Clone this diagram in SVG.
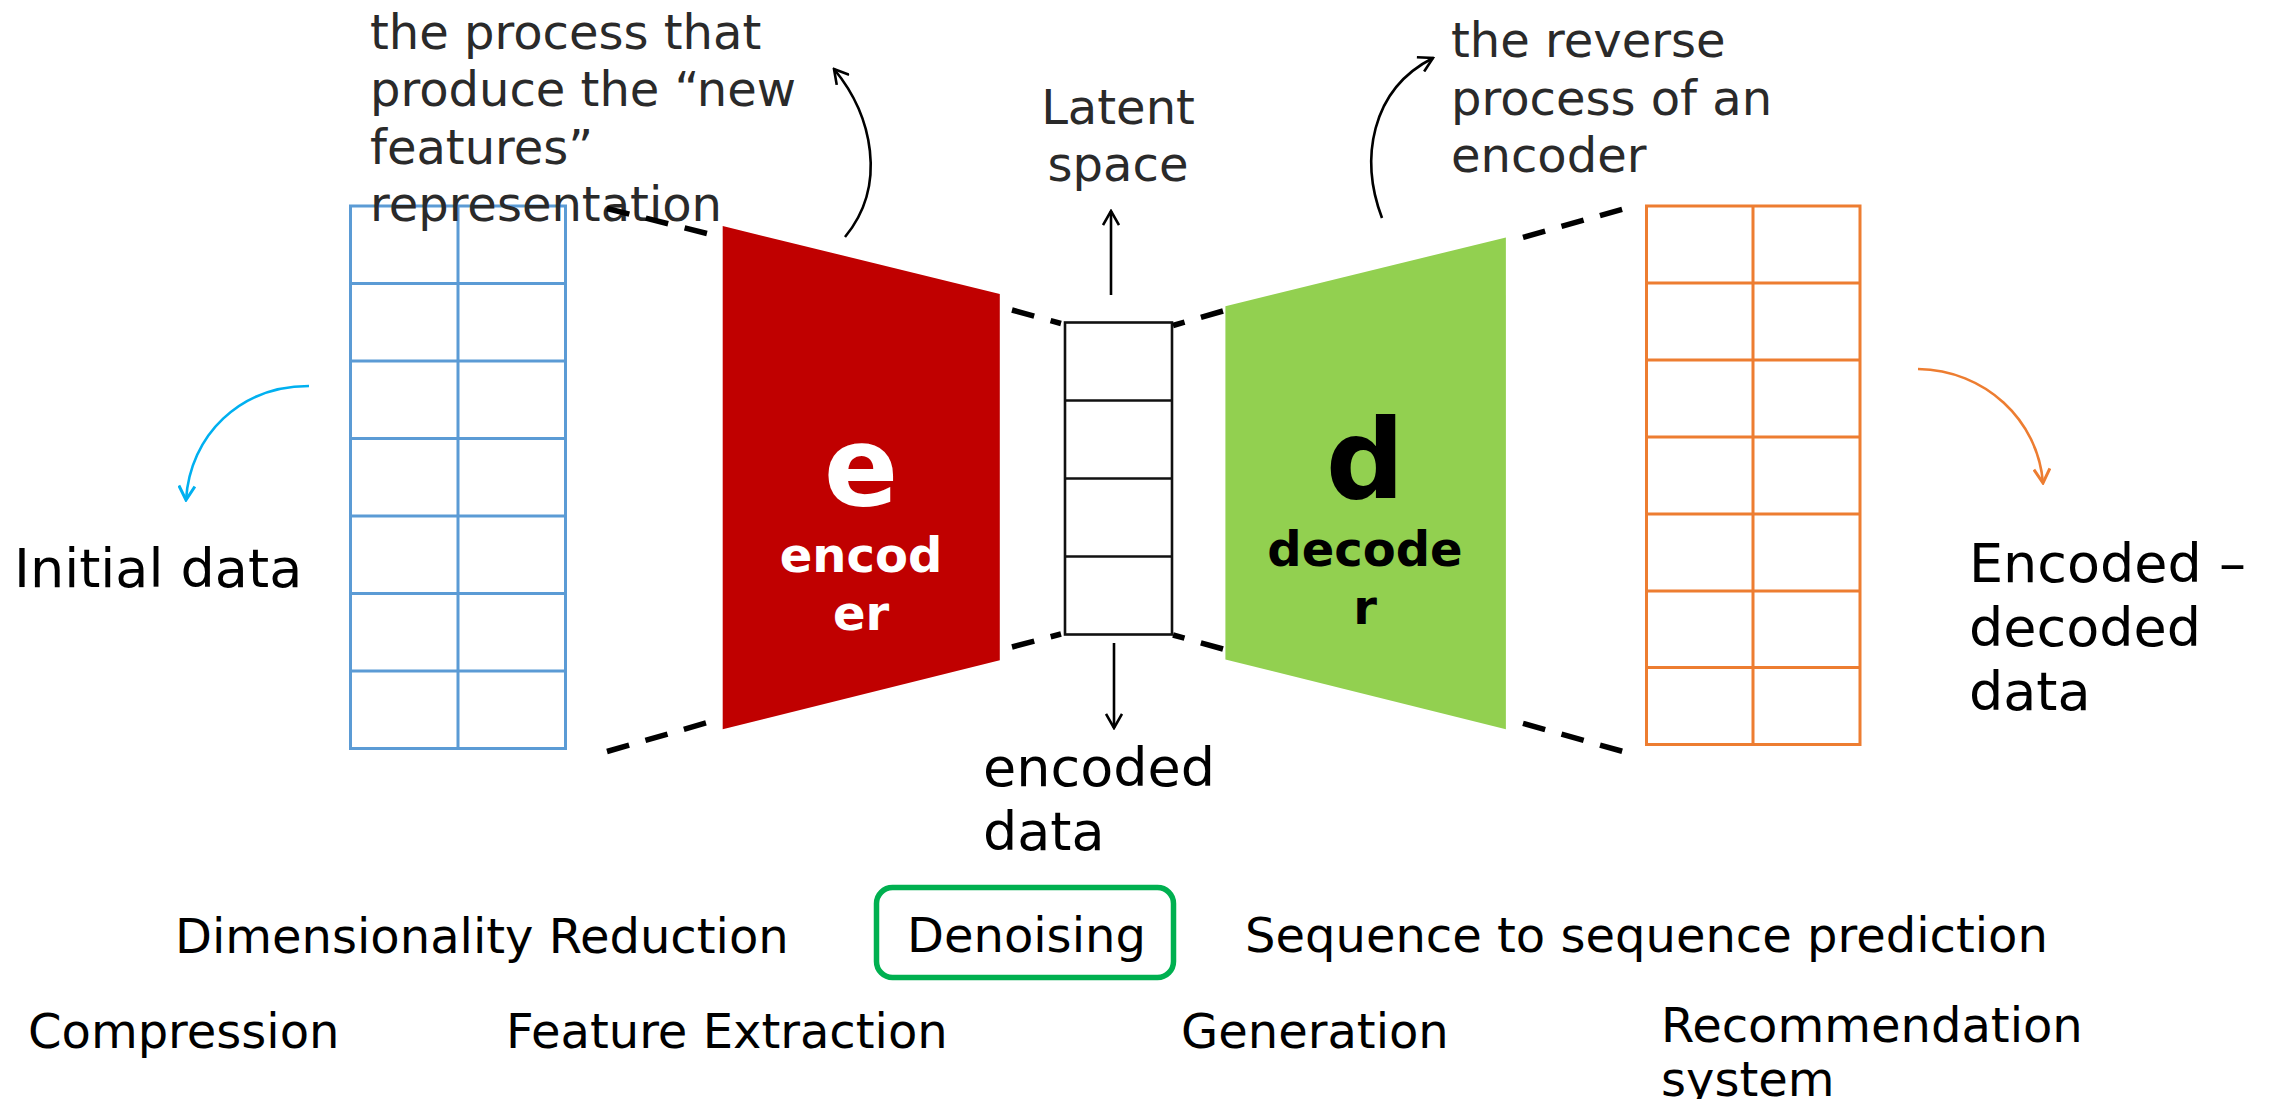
<svg xmlns="http://www.w3.org/2000/svg" width="2270" height="1099" viewBox="0 0 2270 1099">
  <style>
    .txt { font-family: "DejaVu Sans", "Liberation Sans", sans-serif; }
    .note { font-size: 48px; fill: #2a2a2a; }
    .lbl { font-size: 54px; fill: #000; }
    .app { font-size: 48px; fill: #000; }
    .big { font-size: 110px; font-weight: bold; }
    .mid { font-size: 48px; font-weight: bold; }
    .dash { stroke: #000; stroke-width: 5.5; stroke-dasharray: 23 17; fill: none; }
    .arr { fill: none; stroke-width: 2.6; }
    .blue { stroke: #5B9BD5; stroke-width: 3; fill: none; }
    .orange { stroke: #ED7D31; stroke-width: 3; fill: none; }
  </style>
  <defs>
    <marker id="headK" markerUnits="userSpaceOnUse" viewBox="0 0 18 18" markerWidth="18" markerHeight="18" refX="16" refY="9" orient="auto">
      <path d="M2,1 L16,9 L2,17" fill="none" stroke="#000" stroke-width="2.6"/>
    </marker>
    <marker id="headB" markerUnits="userSpaceOnUse" viewBox="0 0 18 18" markerWidth="18" markerHeight="18" refX="16" refY="9" orient="auto">
      <path d="M2,1 L16,9 L2,17" fill="none" stroke="#00B0F0" stroke-width="3"/>
    </marker>
    <marker id="headO" markerUnits="userSpaceOnUse" viewBox="0 0 18 18" markerWidth="18" markerHeight="18" refX="16" refY="9" orient="auto">
      <path d="M2,1 L16,9 L2,17" fill="none" stroke="#ED7D31" stroke-width="3"/>
    </marker>
  </defs>

  <rect width="2270" height="1099" fill="#fff"/>

  <!-- input data grid -->
  <g id="input-grid" class="blue">
    <rect x="350.5" y="206" width="215" height="542.5"/>
    <line x1="458" y1="206" x2="458" y2="748.5"/>
    <line x1="350.5" y1="283.5" x2="565.5" y2="283.5"/>
    <line x1="350.5" y1="361" x2="565.5" y2="361"/>
    <line x1="350.5" y1="438.5" x2="565.5" y2="438.5"/>
    <line x1="350.5" y1="516" x2="565.5" y2="516"/>
    <line x1="350.5" y1="593.5" x2="565.5" y2="593.5"/>
    <line x1="350.5" y1="671" x2="565.5" y2="671"/>
  </g>

  <!-- annotation texts -->
  <g id="note-encoder" class="txt note">
    <text x="370" y="49">the process that</text>
    <text x="370" y="106">produce the “new</text>
    <text x="370" y="164">features”</text>
    <text x="370" y="221">representation</text>
  </g>
  <g id="note-decoder" class="txt note">
    <text x="1451" y="57">the reverse</text>
    <text x="1451" y="115">process of an</text>
    <text x="1451" y="172">encoder</text>
  </g>
  <g id="note-latent" class="txt note" text-anchor="middle">
    <text x="1118" y="124">Latent</text>
    <text x="1118" y="181">space</text>
  </g>

  <!-- encoder -->
  <g id="encoder">
    <polygon points="722.7,226 999.8,294 999.8,660.3 722.7,729.2" fill="#C00000"/>
    <g class="txt" fill="#fff" text-anchor="middle">
      <text class="big" x="861" y="505">e</text>
      <text class="mid" x="861" y="572">encod</text>
      <text class="mid" x="861" y="630">er</text>
    </g>
  </g>

  <!-- latent space -->
  <g id="latent" fill="none" stroke="#111" stroke-width="2.6">
    <rect x="1065" y="322.5" width="107" height="312"/>
    <line x1="1065" y1="400.5" x2="1172" y2="400.5"/>
    <line x1="1065" y1="478.5" x2="1172" y2="478.5"/>
    <line x1="1065" y1="556.5" x2="1172" y2="556.5"/>
  </g>

  <!-- decoder -->
  <g id="decoder">
    <polygon points="1225.4,306.3 1505.9,237.4 1505.9,729.2 1225.4,659.5" fill="#92D050"/>
    <g class="txt" fill="#000" text-anchor="middle">
      <text class="big" x="1365" y="498">d</text>
      <text class="mid" x="1365" y="566">decode</text>
      <text class="mid" x="1365" y="624">r</text>
    </g>
  </g>

  <!-- output data grid -->
  <g id="output-grid" class="orange">
    <rect x="1646.5" y="206" width="213.5" height="538.5"/>
    <line x1="1753" y1="206" x2="1753" y2="744.5"/>
    <line x1="1646.5" y1="283" x2="1860" y2="283"/>
    <line x1="1646.5" y1="360" x2="1860" y2="360"/>
    <line x1="1646.5" y1="437" x2="1860" y2="437"/>
    <line x1="1646.5" y1="514" x2="1860" y2="514"/>
    <line x1="1646.5" y1="591" x2="1860" y2="591"/>
    <line x1="1646.5" y1="667.5" x2="1860" y2="667.5"/>
  </g>

  <!-- data labels -->
  <g id="label-initial" class="txt lbl"><text x="14" y="587">Initial data</text></g>
  <g id="label-encoded" class="txt lbl">
    <text x="983" y="786">encoded</text>
    <text x="983" y="850">data</text>
  </g>
  <g id="label-output" class="txt lbl">
    <text x="1969" y="582">Encoded –</text>
    <text x="1969" y="646">decoded</text>
    <text x="1969" y="710">data</text>
  </g>

  <!-- applications -->
  <g id="app-dimred" class="txt app"><text x="175" y="953">Dimensionality Reduction</text></g>
  <g id="app-denoising">
    <rect x="876.5" y="887.5" width="297" height="90" rx="16" fill="none" stroke="#00B050" stroke-width="5.5"/>
    <text class="txt app" x="907" y="952">Denoising</text>
  </g>
  <g id="app-seq2seq" class="txt app"><text x="1245" y="952">Sequence to sequence prediction</text></g>
  <g id="app-compression" class="txt app"><text x="28" y="1048">Compression</text></g>
  <g id="app-features" class="txt app"><text x="506" y="1048">Feature Extraction</text></g>
  <g id="app-generation" class="txt app"><text x="1181" y="1048">Generation</text></g>
  <g id="app-recommend" class="txt app">
    <text x="1661" y="1042">Recommendation</text>
    <text x="1661" y="1096">system</text>
  </g>

  <!-- connectors -->
  <g id="connectors">
    <line class="dash" x1="607" y1="208.5" x2="711" y2="234.5"/>
    <line class="dash" x1="607" y1="751.5" x2="711" y2="721.5"/>
    <line class="dash" x1="1012" y1="310" x2="1061" y2="323.5"/>
    <line class="dash" x1="1012" y1="647" x2="1061" y2="634"/>
    <line class="dash" x1="1223" y1="311" x2="1173" y2="325.5"/>
    <line class="dash" x1="1223" y1="649" x2="1173" y2="635"/>
    <line class="dash" x1="1523" y1="237.4" x2="1628" y2="207.6"/>
    <line class="dash" x1="1523" y1="723.4" x2="1628" y2="752.9"/>

    <line class="arr" stroke="#000" x1="1111" y1="295" x2="1111" y2="211" marker-end="url(#headK)"/>
    <line class="arr" stroke="#000" x1="1114" y1="643" x2="1114" y2="728" marker-end="url(#headK)"/>
    <path class="arr" stroke="#000" d="M845,237 C888,185 872,115 834,69" marker-end="url(#headK)"/>
    <path class="arr" stroke="#000" d="M1382,218 C1360,160 1370,90 1433,58" marker-end="url(#headK)"/>
    <path class="arr" stroke="#00B0F0" stroke-width="3" d="M309,386 C240,386 190,435 186,500" marker-end="url(#headB)"/>
    <path class="arr" stroke="#ED7D31" stroke-width="3" d="M1918,369 C1985,370 2038,420 2043,483" marker-end="url(#headO)"/>
  </g>
</svg>
